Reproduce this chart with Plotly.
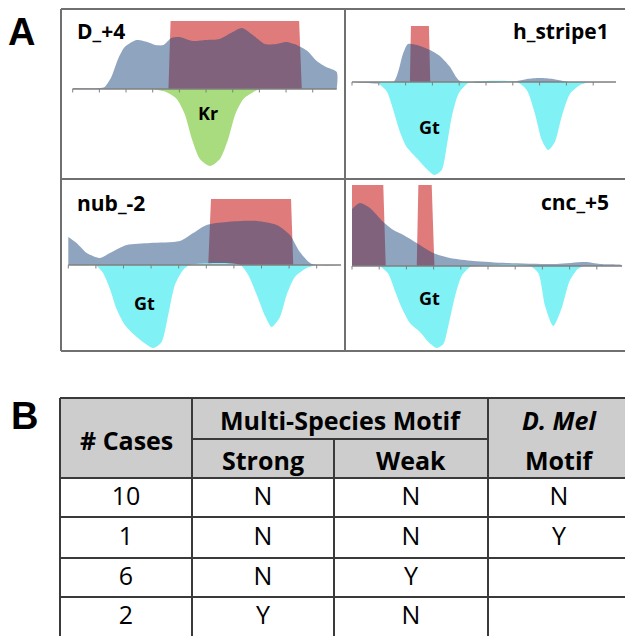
import plotly.graph_objects as go

W, H = 625, 636

# ---------------- data (panel A curves: x in tick units, y in relative height) ----------------
p1_blue_x = [0, 1.0, 1.2, 1.45, 1.7, 1.95, 2.4, 2.8, 3.1, 3.4, 3.7, 4.0, 4.5, 5.0, 5.5, 6.0, 6.34, 6.8, 7.2, 7.65, 8.0, 8.4, 8.8, 9.15, 9.5, 9.9, 9.9]
p1_blue_y = [1, 1, 2, 12, 30, 42, 49, 47, 44, 44, 51, 52, 48, 49, 50, 57, 61, 53, 45, 45, 47, 44, 38, 28, 22, 17, 0]
p1_red_x = [3.59, 3.67, 8.49, 8.59]
p1_red_y = [0, 68, 68, 0]
p1_kr_x = [3.0, 3.5, 3.9, 4.2, 4.47, 4.77, 5.15, 5.52, 5.83, 6.1, 6.4, 6.84, 7.05]
p1_kr_y = [0, -3, -10, -25, -50, -70, -77, -70, -50, -25, -10, -2, 0]

p2_blue_x = [0, 1.54, 1.72, 1.9, 2.09, 2.42, 2.91, 3.28, 3.66, 4.03, 6.16, 6.53, 7.0, 7.5, 7.87, 8.1, 9.85]
p2_blue_y = [0, 0, 10, 28, 38, 37, 32, 26, 15, 1, 1, 3, 4, 3, 1, 0, 0]
p2_red_x = [2.16, 2.2, 2.87, 2.92]
p2_red_y = [0, 56, 56, 0]
p2_gt_x = [0.92, 1.29, 1.53, 1.79, 2.04, 2.41, 2.79, 3.07, 3.35, 3.53, 3.72, 3.97, 4.28, 4.47,
           6.15, 6.52, 6.83, 7.08, 7.32, 7.57, 7.82, 8.13, 8.51, 8.88]
p2_gt_y = [0, -9, -27, -50, -65, -76, -87, -93, -88, -65, -35, -12, -2, 0,
           0, -8, -32, -58, -68, -60, -35, -12, -3, 0]

p3_blue_x = [0, 0.3, 0.67, 1.15, 1.51, 2.12, 2.96, 4.04, 4.53, 5.01, 5.74, 6.83, 7.55, 8.03, 8.39, 8.82, 9.88]
p3_blue_y = [28, 22, 12, 7, 12, 20, 22, 24, 32, 40, 43, 44, 40, 30, 13, 1, 0]
p3_red_x = [5.07, 5.17, 8.07, 8.15]
p3_red_y = [0, 66, 66, 0]
p3_gt_x = [1.0, 1.26, 1.51, 1.75, 2.05, 2.48, 3.08, 3.38, 3.62, 3.86, 4.16, 4.4,
           6.22, 6.52, 6.83, 7.13, 7.37, 7.67, 7.91, 8.21, 8.64, 9.0]
p3_gt_y = [0, -8, -24, -44, -60, -72, -83, -77, -50, -20, -5, 0,
           0, -10, -30, -51, -62, -52, -30, -12, -3, 0]

p4_blue_x = [0, 0.29, 0.66, 1.15, 1.52, 1.89, 2.38, 2.99, 3.6, 4.46, 5.69, 7.52, 8.57, 9.12, 9.91, 9.91]
p4_blue_y = [57, 63, 58, 44, 36, 31, 23, 13, 8, 5, 3, 2, 4, 2, 1, 0]
p4_red_x = [0, 0, 1.15, 1.24, 2.38, 2.44, 2.93, 3.03]
p4_red_y = [0, 81, 81, 0, 0, 81, 81, 0]
p4_gt_x = [1.03, 1.34, 1.58, 1.83, 2.13, 2.5, 2.81, 3.11, 3.36, 3.54, 3.79, 4.03, 4.34, 4.5,
           6.54, 6.85, 7.1, 7.4, 7.71, 8.0, 8.3, 8.5]
p4_gt_y = [0, -8, -25, -42, -57, -66, -76, -82, -78, -60, -30, -10, -1, 0,
           0, -7, -40, -60, -42, -15, -3, 0]

panel_names = ["D_+4", "h_stripe1", "nub_-2", "cnc_+5"]
dip_labels = ["Kr", "Gt", "Gt", "Gt"]
tick_positions = list(range(10))

# ---------------- table (panel B) ----------------
table_cases = ["10", "1", "6", "2"]
table_strong = ["N", "N", "N", "Y"]
table_weak = ["N", "N", "Y", "N"]
table_dmel = ["N", "Y", "", ""]

# ---------------- styling / layout ----------------
RED = "rgb(224,123,123)"
BLUE = "rgba(31,73,125,0.5)"
GREEN = "rgb(169,220,126)"
CYAN = "rgb(128,241,245)"
AXIS = "#808080"
BORDER = "#707070"
FONT = "Open Sans"

def fx(px):
    return px / W

def fy(py):
    return 1 - py / H

# panel geometry in pixels: L, R, T, B, x-origin px, px per unit, baseline px, axis end
geoms = [
    (61, 345, 9, 179, 72.7, 26.67, 89, 9.9),
    (345, 625, 9, 179, 352.0, 26.8, 82, 9.85),
    (61, 345, 179, 351, 68.3, 27.6, 265, 9.88),
    (345, 625, 179, 351, 352.0, 27.2, 266, 9.93),
]
series = [
    (p1_red_x, p1_red_y, p1_blue_x, p1_blue_y, p1_kr_x, p1_kr_y, GREEN),
    (p2_red_x, p2_red_y, p2_blue_x, p2_blue_y, p2_gt_x, p2_gt_y, CYAN),
    (p3_red_x, p3_red_y, p3_blue_x, p3_blue_y, p3_gt_x, p3_gt_y, CYAN),
    (p4_red_x, p4_red_y, p4_blue_x, p4_blue_y, p4_gt_x, p4_gt_y, CYAN),
]
name_pos = [(75, 31, "left"), (611, 31, "right"), (75, 203, "left"), (611, 202, "right")]
dip_pos = [(208, 113), (430, 127), (144, 303), (430, 298)]

fig = go.Figure()
layout_axes = {}
annotations = []
shapes = []

for i, (g, s) in enumerate(zip(geoms, series), start=1):
    L, R, T, B, x0, dx, base, xend = g
    rx, ry, bx, by, dxs, dys, dcol = s
    xa, ya = f"x{i}", f"y{i}"
    common = dict(xaxis=xa, yaxis=ya, showlegend=False, hoverinfo="skip")
    fig.add_trace(go.Scatter(x=rx, y=ry, mode="lines", fill="tozeroy", fillcolor=RED,
                             line=dict(width=0, color=RED), **common))
    fig.add_trace(go.Scatter(x=bx, y=by, mode="lines", fill="tozeroy", fillcolor=BLUE,
                             line=dict(width=0, color=BLUE, shape="spline", smoothing=0.7), **common))
    fig.add_trace(go.Scatter(x=dxs, y=dys, mode="lines", fill="tozeroy", fillcolor=dcol,
                             line=dict(width=0, color=dcol, shape="spline", smoothing=0.7), **common))
    # baseline axis and tick marks
    fig.add_trace(go.Scatter(x=[0, xend], y=[0, 0], mode="lines",
                             line=dict(width=1.5, color=AXIS), **common))
    tx, ty = [], []
    for t in tick_positions:
        tx += [t, t, None]
        ty += [0, -3.5, None]
    fig.add_trace(go.Scatter(x=tx, y=ty, mode="lines", line=dict(width=1, color=AXIS), **common))

    key = "" if i == 1 else str(i)
    layout_axes[f"xaxis{key}"] = dict(domain=[fx(L), min(fx(R), 1)],
                                      range=[(L - x0) / dx, (R - x0) / dx],
                                      visible=False, fixedrange=True, anchor=ya)
    layout_axes[f"yaxis{key}"] = dict(domain=[fy(B), fy(T)], range=[base - B, base - T],
                                      visible=False, fixedrange=True, anchor=xa)

    nx, ny, al = name_pos[i - 1]
    annotations.append(dict(x=fx(nx), y=fy(ny), xref="paper", yref="paper", text=f"<b>{panel_names[i-1]}</b>",
                            showarrow=False, xanchor=al, yanchor="middle",
                            font=dict(family=FONT, size=21, color="black")))
    lx, ly = dip_pos[i - 1]
    annotations.append(dict(x=fx(lx), y=fy(ly), xref="paper", yref="paper", text=f"<b>{dip_labels[i-1]}</b>",
                            showarrow=False, xanchor="center", yanchor="middle",
                            font=dict(family=FONT, size=18, color="black")))

# panel A frame
for (x1, y1, x2, y2) in [(61, 9, 630, 9), (61, 351, 630, 351), (61, 9, 61, 351),
                         (345, 9, 345, 351), (61, 179, 630, 179)]:
    shapes.append(dict(type="line", xref="paper", yref="paper", x0=fx(x1), y0=fy(y1), x1=fx(x2), y1=fy(y2),
                       line=dict(color=BORDER, width=2)))

# panel letters
annotations.append(dict(x=fx(6), y=fy(32), xref="paper", yref="paper", text="<b>A</b>", showarrow=False,
                        xanchor="left", yanchor="middle", font=dict(family="Liberation Sans", size=38, color="black")))
annotations.append(dict(x=fx(9), y=fy(416), xref="paper", yref="paper", text="<b>B</b>", showarrow=False,
                        xanchor="left", yanchor="middle", font=dict(family="Liberation Sans", size=38, color="black")))

# ---------------- table ----------------
TOP, SUB, HEAD = 398, 439, 478
row_lines = [478, 517, 558, 597, 636]
col_lines = [60, 192, 334, 488, 630]
TLINE = "#3a3a3a"
shapes.append(dict(type="rect", xref="x5", yref="y5", x0=60, x1=630, y0=TOP, y1=HEAD,
                   fillcolor="#cdcdcd", line=dict(width=0), layer="below"))
for yv in [TOP] + row_lines[:-1]:
    shapes.append(dict(type="line", xref="x5", yref="y5", x0=60, x1=630, y0=yv, y1=yv,
                       line=dict(color=TLINE, width=2)))
shapes.append(dict(type="line", xref="x5", yref="y5", x0=192, x1=488, y0=SUB, y1=SUB,
                   line=dict(color=TLINE, width=2)))
for xv in [60, 192, 488]:
    shapes.append(dict(type="line", xref="x5", yref="y5", x0=xv, x1=xv, y0=TOP, y1=640,
                       line=dict(color=TLINE, width=2)))
shapes.append(dict(type="line", xref="x5", yref="y5", x0=334, x1=334, y0=SUB, y1=640,
                   line=dict(color=TLINE, width=2)))

hdr_font = dict(family=FONT, size=25, color="black")
for (x, y, t) in [(126, 440, "<b># Cases</b>"), (340, 420, "<b>Multi-Species Motif</b>"),
                  (263, 460, "<b>Strong</b>"), (411, 460, "<b>Weak</b>"),
                  (559, 420, "<b><i>D. Mel</i></b>"), (559, 460, "<b>Motif</b>")]:
    annotations.append(dict(x=x, y=y, xref="x5", yref="y5", text=t, showarrow=False,
                            xanchor="center", yanchor="middle", font=hdr_font))

col_centers = [(a + b) / 2 for a, b in zip(col_lines[:-1], col_lines[1:])]
row_centers = [(a + b) / 2 + 1 for a, b in zip(row_lines[:-1], row_lines[1:])]
cx, cy, ct = [], [], []
for ci, col in enumerate([table_cases, table_strong, table_weak, table_dmel]):
    for ri, val in enumerate(col):
        cx.append(col_centers[ci])
        cy.append(row_centers[ri])
        ct.append(val)
fig.add_trace(go.Scatter(x=cx, y=cy, text=ct, mode="text", textposition="middle center",
                         textfont=dict(family=FONT, size=25, color="black"),
                         xaxis="x5", yaxis="y5", showlegend=False, hoverinfo="skip"))
layout_axes["xaxis5"] = dict(domain=[0, 1], range=[0, W], visible=False, fixedrange=True, anchor="y5")
layout_axes["yaxis5"] = dict(domain=[0, fy(390)], range=[H, 390], visible=False, fixedrange=True, anchor="x5")

fig.update_layout(width=W, height=H, margin=dict(l=0, r=0, t=0, b=0),
                  paper_bgcolor="white", plot_bgcolor="rgba(0,0,0,0)",
                  annotations=annotations, shapes=shapes, **layout_axes)
fig.write_html("out.html", config={"displayModeBar": False})
